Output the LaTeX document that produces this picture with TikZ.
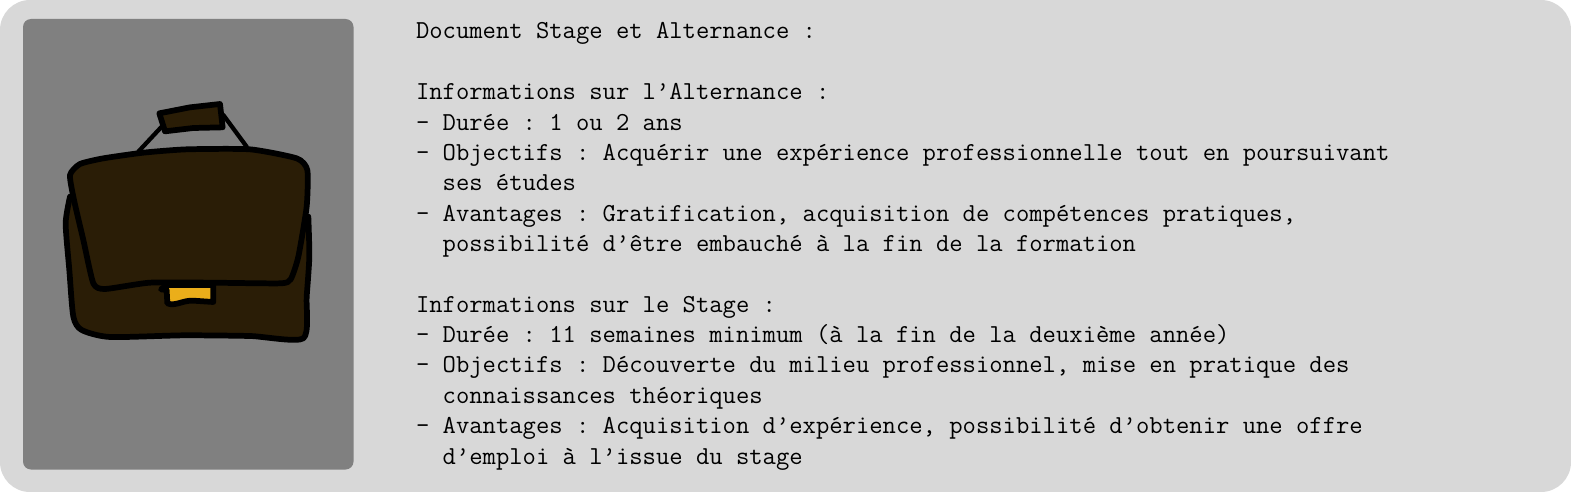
\documentclass[tikz,border=0pt]{standalone}
\usepackage{fontspec}
\tikzset{
  panel/.style={fill=bgpanel,rounded corners=22.5pt},
  photo/.style={fill=photogray,rounded corners=6pt},
  ink/.style={draw=black,line width=4.3pt,line join=round,line cap=round},
  leather/.style={ink,fill=bagbrown},
  strap/.style={draw=black,line width=3.2pt,line cap=round},
  bodytext/.style={anchor=base west,inner sep=0pt,outer sep=0pt,align=left,font=\ttfamily\fontsize{19.42}{22.77}\selectfont\frenchspacing}
}
\definecolor{bgpanel}{HTML}{D8D8D8}
\definecolor{photogray}{HTML}{808080}
\definecolor{bagbrown}{HTML}{2A1D06}
\definecolor{claspyellow}{HTML}{EBAE1A}
\begin{document}
\begin{tikzpicture}[x=0.75pt,y=-0.75pt]
\useasboundingbox (0,0) rectangle (1571,492);
\fill[white] (0,0) rectangle (1571,492);
\path[panel] (0,0) rectangle (1571,492);
\path[photo] (23,19) rectangle (353.5,469.5);
\begin{scope}[shift={(50,90)},x=0.25pt,y=-0.25pt]
  % handle straps
  \draw[strap] (265,185) -- (335,110);
  \draw[strap] (520,75) -- (590,170);
  % bag body
  \draw[leather] plot[smooth,tension=0.4] coordinates {(60,320) (47,400) (58,540) (70,680) (95,720) (180,741) (400,736) (600,738) (760,745) (770,620) (778,500) (775,380)} -- cycle;
  % handle grip
  \draw[leather] (328,70) -- (420,52) -- (510,42) -- (518,112) -- (430,114) -- (345,124) -- cycle;
  % clasp
  \draw[ink,fill=claspyellow] (333,598) -- (350,600) -- (352,640) .. controls (375,650) and (400,630) .. (430,632) -- (490,636) -- (490,585) -- (350,585) -- cycle;
  % flap
  \draw[leather] plot[smooth cycle,tension=0.35] coordinates {(60,255) (90,222) (160,205) (280,188) (410,178) (600,178) (740,205) (772,240) (770,350) (745,500) (722,568) (690,580) (480,578) (300,578) (165,597) (130,580) (100,450) (72,330)};
\end{scope}
\node[bodytext] (txt) at (416,464) {Document Stage et Alternance :\\
\mbox{}\\
Informations sur l’Alternance :\\
- Durée : 1 ou 2 ans\\
- Objectifs : Acquérir une expérience professionnelle tout en poursuivant\\
\phantom{- }ses études\\
- Avantages : Gratification, acquisition de compétences pratiques,\\
\phantom{- }possibilité d’être embauché à la fin de la formation\\
\mbox{}\\
Informations sur le Stage :\\
- Durée : 11 semaines minimum (à la fin de la deuxième année)\\
- Objectifs : Découverte du milieu professionnel, mise en pratique des\\
\phantom{- }connaissances théoriques\\
- Avantages : Acquisition d’expérience, possibilité d’obtenir une offre\\
\phantom{- }d’emploi à l’issue du stage};
\end{tikzpicture}
\end{document}
